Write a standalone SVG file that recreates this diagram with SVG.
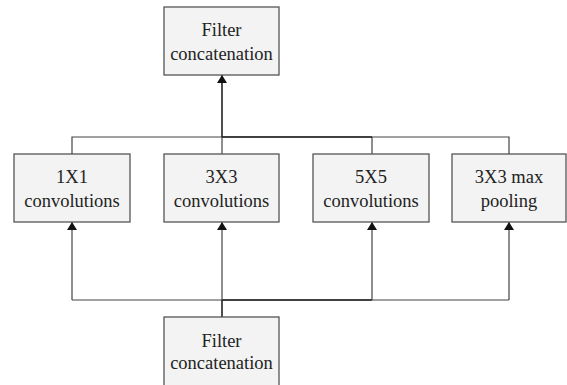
<svg xmlns="http://www.w3.org/2000/svg" width="567" height="385" viewBox="0 0 567 385">
<style>
.box{fill:#f2f3f2;stroke:#555;stroke-width:1.3}
.t{font-family:"Liberation Serif","Times New Roman",serif;font-size:18.5px;fill:#222;text-anchor:middle}
.c{fill:none;stroke:#444;stroke-width:1.2}
.d{fill:none;stroke:#222;stroke-width:1.6}
</style>
<defs>
<marker id="ah" viewBox="0 0 8 10" refX="8" refY="5" markerWidth="8" markerHeight="10" orient="auto" markerUnits="userSpaceOnUse">
<path d="M0,0 L8,5 L0,10 Z" fill="#111"/>
</marker>
</defs>
<rect width="567" height="385" fill="#fff"/>
<g id="connectors">
<path class="c" d="M72,154 V137 H509 V154"/>
<path class="c" d="M222,154 V137"/>
<path class="c" d="M372,154 V137"/>
<path class="d" d="M222,137 H372"/>
<path class="d" d="M222,137 V75" marker-end="url(#ah)"/>
<path class="c" d="M72,300 H509"/>
<path class="d" d="M222,300 H372"/>
<path class="d" d="M222,317 V300"/>
<path class="c" d="M72,300 V222" marker-end="url(#ah)"/>
<path class="c" d="M222,300 V222" marker-end="url(#ah)"/>
<path class="c" d="M372,300 V222" marker-end="url(#ah)"/>
<path class="c" d="M509,300 V222" marker-end="url(#ah)"/>
</g>
<g id="top">
<rect class="box" x="164" y="7" width="115" height="68"/>
<text class="t" x="221.5" y="36">Filter</text>
<text class="t" x="221.5" y="60">concatenation</text>
</g>
<g id="conv1">
<rect class="box" x="14" y="154" width="116" height="68"/>
<text class="t" x="72" y="183">1X1</text>
<text class="t" x="72" y="207">convolutions</text>
</g>
<g id="conv3">
<rect class="box" x="164" y="154" width="115" height="68"/>
<text class="t" x="221.5" y="183">3X3</text>
<text class="t" x="221.5" y="207">convolutions</text>
</g>
<g id="conv5">
<rect class="box" x="313" y="154" width="116" height="68"/>
<text class="t" x="371" y="183">5X5</text>
<text class="t" x="371" y="207">convolutions</text>
</g>
<g id="pool">
<rect class="box" x="452" y="154" width="114" height="68"/>
<text class="t" x="509" y="183">3X3 max</text>
<text class="t" x="509" y="207">pooling</text>
</g>
<g id="bottom">
<rect class="box" x="164" y="317" width="115" height="72"/>
<text class="t" x="221.5" y="347">Filter</text>
<text class="t" x="221.5" y="369">concatenation</text>
</g>
</svg>
